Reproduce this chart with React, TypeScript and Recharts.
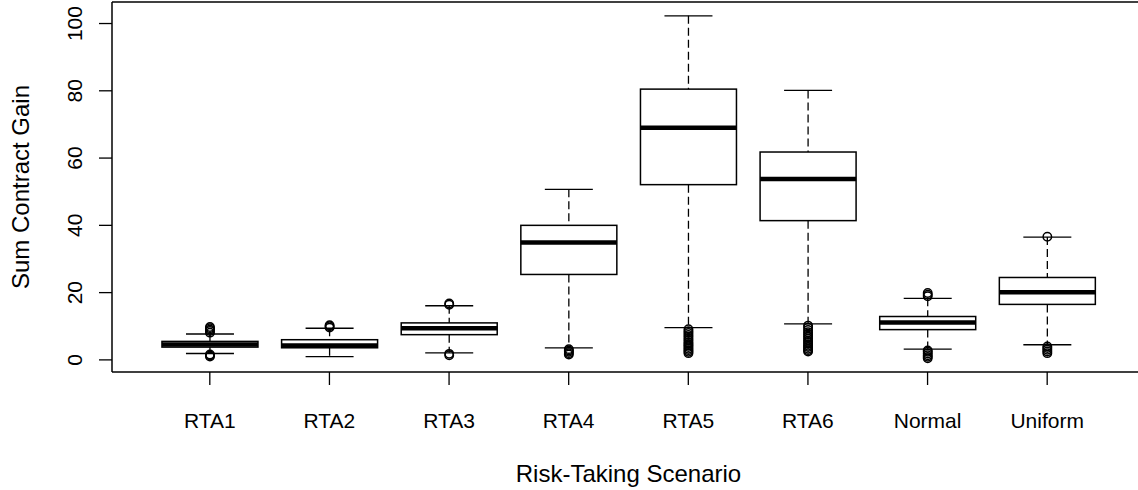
import { ComposedChart, Bar, XAxis, YAxis, CartesianGrid } from "recharts";

const categories = ["RTA1", "RTA2", "RTA3", "RTA4", "RTA5", "RTA6", "Normal", "Uniform"];
const lowerWhisker = [1.9, 1.0, 2.1, 3.6, 9.6, 10.7, 3.2, 4.5];
const q1 = [3.8, 3.6, 7.5, 25.4, 52.1, 41.4, 9.0, 16.5];
const median = [4.6, 4.3, 9.4, 34.9, 69.0, 53.8, 11.1, 20.1];
const q3 = [5.5, 6.0, 11.0, 40.0, 80.5, 61.8, 12.9, 24.5];
const upperWhisker = [7.7, 9.4, 16.1, 50.7, 102.3, 80.1, 18.3, 36.5];
const upperOutliers = [
  [8.1, 8.6, 9.0, 9.4, 9.8],
  [9.6, 10.0, 10.3],
  [16.4, 16.8],
  [],
  [],
  [],
  [18.9, 19.4, 19.9],
  [36.6],
];
const lowerOutliers = [
  [1.0, 1.3, 1.6],
  [],
  [1.4, 1.8],
  [1.6, 2.0, 2.4, 2.8, 3.2],
  [2.0, 2.4, 2.9, 3.3, 3.8, 4.3, 4.7, 5.2, 5.8, 6.3, 6.9, 7.4, 8.0, 8.5, 9.1],
  [2.5, 2.9, 3.3, 3.8, 4.2, 4.7, 5.3, 5.8, 6.4, 7.0, 7.6, 8.2, 8.9, 9.6, 10.2],
  [0.5, 0.9, 1.4, 1.9, 2.4, 2.8],
  [2.0, 2.5, 3.0, 3.5, 4.0],
];
const yTicks = [0, 20, 40, 60, 80, 100];

const rows = categories.map((name, i) => ({
  name,
  lo: lowerWhisker[i],
  q1: q1[i],
  med: median[i],
  q3: q3[i],
  hi: upperWhisker[i],
  out: [...upperOutliers[i], ...lowerOutliers[i]],
}));

const font = "'Liberation Sans', Arial, Helvetica, sans-serif";

function BoxShape(props: any) {
  const { x, y, width, height, payload } = props;
  const top = Math.min(y, y + height);
  const bot = Math.max(y, y + height);
  const { lo, hi } = payload;
  // map values using the two pixel ends the bar got from the y scale
  const py = (v: number) => top + ((hi - v) / (hi - lo)) * (bot - top);
  const cx = x + width / 2;
  const capHalf = width / 4;
  return (
    <g>
      <line x1={cx} x2={cx} y1={py(hi)} y2={py(payload.q3)} stroke="#000" strokeWidth={1.3} strokeDasharray="8 4" />
      <line x1={cx} x2={cx} y1={py(payload.q1)} y2={py(lo)} stroke="#000" strokeWidth={1.3} strokeDasharray="8 4" />
      <line x1={cx - capHalf} x2={cx + capHalf} y1={py(hi)} y2={py(hi)} stroke="#000" strokeWidth={1.3} />
      <line x1={cx - capHalf} x2={cx + capHalf} y1={py(lo)} y2={py(lo)} stroke="#000" strokeWidth={1.3} />
      <rect
        x={x}
        y={py(payload.q3)}
        width={width}
        height={py(payload.q1) - py(payload.q3)}
        fill="#fff"
        stroke="#000"
        strokeWidth={1.5}
      />
      <line x1={x} x2={x + width} y1={py(payload.med)} y2={py(payload.med)} stroke="#000" strokeWidth={4.5} />
      {payload.out.map((v: number, k: number) => (
        <circle key={k} cx={cx} cy={py(v)} r={4.2} fill="none" stroke="#000" strokeWidth={1.5} />
      ))}
    </g>
  );
}

function YTick(props: any) {
  const { x, y, payload } = props;
  return (
    <text
      x={x}
      y={y}
      transform={`rotate(-90 ${x} ${y})`}
      textAnchor="middle"
      fontSize={21}
      fontFamily={font}
      fill="#000"
    >
      {payload.value}
    </text>
  );
}

export default function App() {
  return (
    <div style={{ position: "absolute", left: 0, top: 0, width: 1138, height: 490, overflow: "hidden", background: "#fff" }}>
      <ComposedChart
        width={1145}
        height={490}
        data={rows}
        margin={{ top: 2, right: 0, bottom: 0, left: 0 }}
        barCategoryGap="10%"
      >
        {/* top edge of the plot frame */}
        <CartesianGrid
          vertical={false}
          horizontalCoordinatesGenerator={({ offset }: any) => [offset.top]}
          stroke="#000"
          strokeWidth={1.5}
          strokeOpacity={1}
        />
        <XAxis
          dataKey="name"
          height={118}
          padding={{ left: 38, right: 38 }}
          tickSize={13}
          tickMargin={28}
          tick={{ fontSize: 21, fontFamily: font, fill: "#000" }}
          tickLine={{ stroke: "#000", strokeWidth: 1.3 }}
          axisLine={{ stroke: "#000", strokeWidth: 1.5 }}
          interval={0}
          label={{
            value: "Risk-Taking Scenario",
            position: "insideBottom",
            offset: 8,
            fontSize: 24,
            fontFamily: font,
            fill: "#000",
          }}
        />
        <YAxis
          type="number"
          domain={[-3.6, 106.4]}
          ticks={yTicks}
          allowDataOverflow
          width={112}
          tickSize={13}
          tickMargin={17}
          tick={<YTick />}
          tickLine={{ stroke: "#000", strokeWidth: 1.3 }}
          axisLine={{ stroke: "#000", strokeWidth: 1.5 }}
          label={{
            value: "Sum Contract Gain",
            angle: -90,
            position: "insideLeft",
            offset: 20,
            fontSize: 24,
            fontFamily: font,
            fill: "#000",
            style: { textAnchor: "middle" },
          }}
        />
        <Bar
          dataKey={(d: any) => [d.lo, d.hi]}
          shape={<BoxShape />}
          isAnimationActive={false}
        />
      </ComposedChart>
    </div>
  );
}
